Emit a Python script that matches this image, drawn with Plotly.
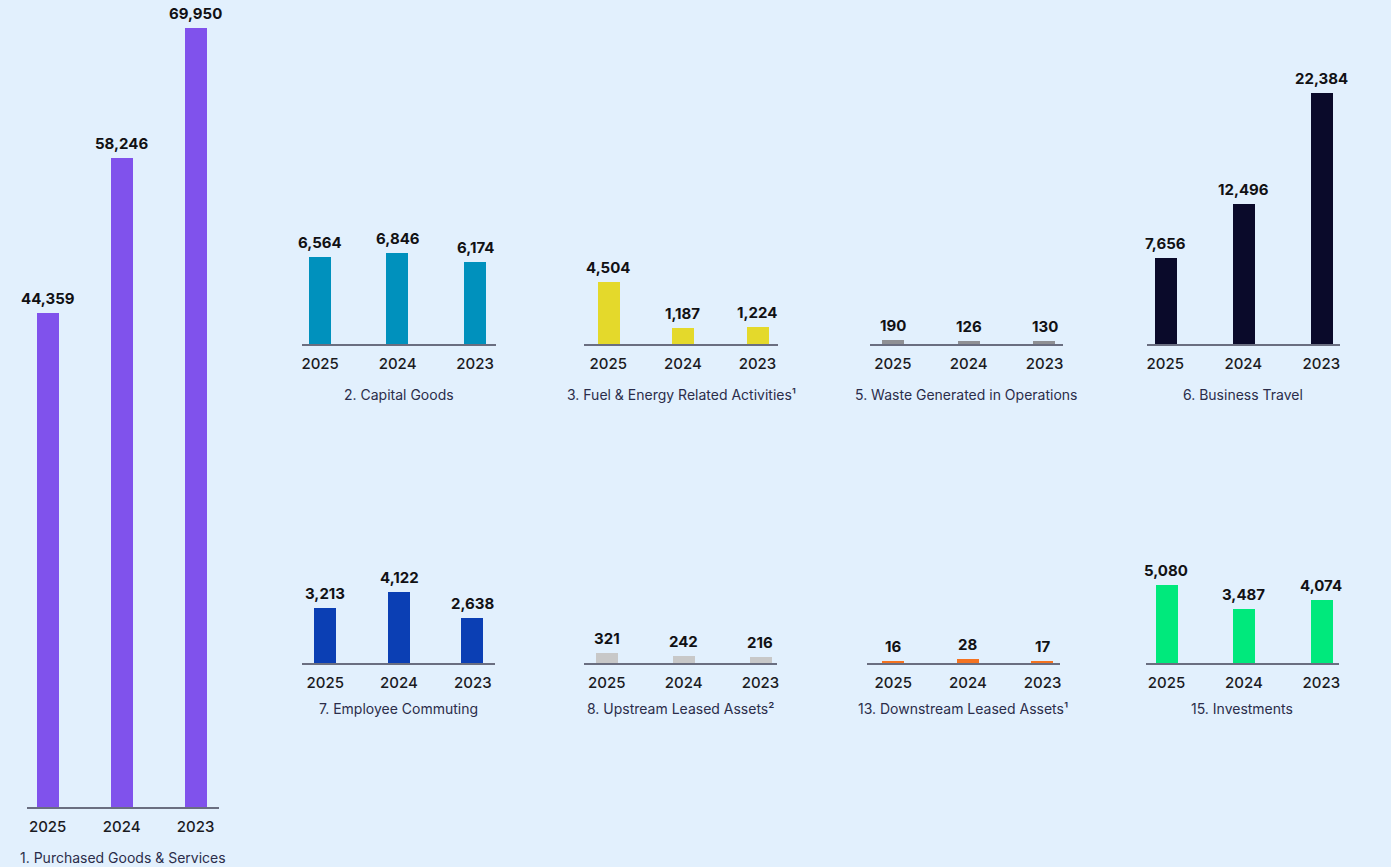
import plotly.graph_objects as go

# ---------------- data ----------------
years = ["2025", "2024", "2023"]
purchased = [44359, 58246, 69950]
capital = [6564, 6846, 6174]
fuel = [4504, 1187, 1224]
waste = [190, 126, 130]
travel = [7656, 12496, 22384]
commuting = [3213, 4122, 2638]
upstream = [321, 242, 216]
downstream = [16, 28, 17]
investments = [5080, 3487, 4074]

titles = [
    "1. Purchased Goods & Services",
    "2. Capital Goods",
    "3. Fuel & Energy Related Activities¹",
    "5. Waste Generated in Operations",
    "6. Business Travel",
    "7. Employee Commuting",
    "8. Upstream Leased Assets²",
    "13. Downstream Leased Assets¹",
    "15. Investments",
]
series = [purchased, capital, fuel, waste, travel, commuting, upstream, downstream, investments]
colors = ["#8052EC", "#0091BD", "#E4D92B", "#8F9094", "#0A0A2A",
          "#0B3FB4", "#C8C8C8", "#F47321", "#00E97C"]

# ---------------- layout (pixel boxes) ----------------
W, H = 1391, 867
# x0, x1 (axis line), baseline, top of domain, px per unit, left pad, right pad, title y
boxes = [
    (26, 218, 807, 0, 0.01114, 0.28, 0.31, 857),
    (302, 496, 344, 60, 0.01330, 0.23, 0.27, 395),
    (584, 779, 344, 60, 0.01377, 0.33, 0.28, 395),
    (871, 1064, 344, 60, 0.0210, 0.30, 0.24, 395),
    (1148, 1342, 344, 60, 0.01121, 0.24, 0.24, 395),
    (302, 495, 663, 480, 0.01722, 0.31, 0.30, 708),
    (584, 778, 663, 480, 0.0300, 0.30, 0.22, 708),
    (868, 1061, 663, 480, 0.1430, 0.35, 0.23, 708),
    (1147, 1341, 663, 480, 0.01535, 0.27, 0.23, 708),
]

BG = "#E2F0FD"
FONT = "Inter"

fig = go.Figure()
annotations = []
layout_axes = {}

for i, (vals, title, color, box) in enumerate(zip(series, titles, colors, boxes), start=1):
    x0, x1, base, top, k, padl, padr, ty = box
    sfx = "" if i == 1 else str(i)
    spacing = (x1 - x0) / (2 + padl + padr)
    fig.add_trace(go.Bar(
        x=years, y=vals,
        xaxis=f"x{sfx}", yaxis=f"y{sfx}",
        marker=dict(color=color, line=dict(width=0)),
        width=22 / spacing,
        hoverinfo="skip",
        showlegend=False,
    ))
    layout_axes[f"xaxis{i}"] = dict(
        domain=[x0 / W, x1 / W], anchor=f"y{sfx}",
        type="category", categoryorder="array", categoryarray=years,
        range=[-padl, 2 + padr],
        showline=True, linecolor="#6A6E80", linewidth=1.5,
        showgrid=False, zeroline=False, ticks="",
        tickfont=dict(family=FONT, size=15, color="#1B1B1F", weight=500),
        ticklabelstandoff=5, fixedrange=True,
    )
    layout_axes[f"yaxis{i}"] = dict(
        domain=[1 - base / H, 1 - top / H], anchor=f"x{sfx}",
        range=[0, (base - top) / k], visible=False, fixedrange=True,
    )
    for j, v in enumerate(vals):
        annotations.append(dict(
            x=j, y=v, xref=f"x{sfx}", yref=f"y{sfx}",
            text=f"{v:,}", showarrow=False, yanchor="bottom", yshift=3,
            font=dict(family=FONT, size=15, color="#111114", weight=700),
        ))
    annotations.append(dict(
        x=(x0 + x1) / 2 / W, y=1 - ty / H, xref="paper", yref="paper",
        text=title, showarrow=False, xanchor="center", yanchor="middle",
        font=dict(family=FONT, size=14, color="#2B2D4A"),
    ))

fig.update_layout(
    width=W, height=H,
    margin=dict(l=0, r=0, t=0, b=0),
    paper_bgcolor=BG, plot_bgcolor=BG,
    bargap=0,
    annotations=annotations,
    **layout_axes,
)

fig.write_html(
    "out.html",
    config={"displayModeBar": False},
    post_script="document.body.style.margin='0px';document.body.style.padding='0px';document.body.style.overflow='hidden';",
)
